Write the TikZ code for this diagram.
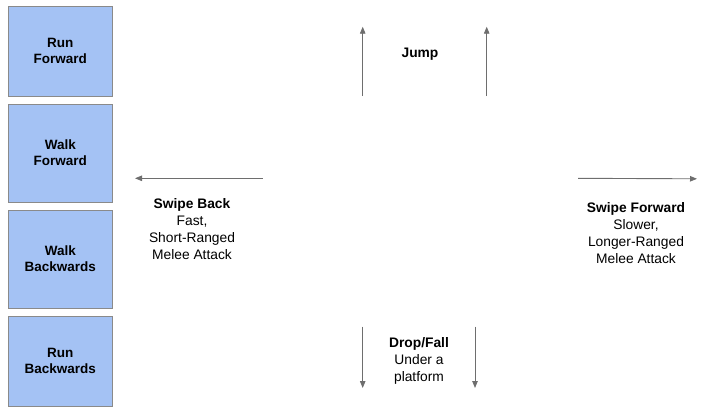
\documentclass[tikz,border=0pt]{standalone}
\usepackage{fontspec}
\setmainfont{Liberation Sans}
\usetikzlibrary{arrows.meta}
\definecolor{boxfill}{HTML}{A4C2F4}
\definecolor{boxline}{HTML}{8A8A8A}
\definecolor{arr}{HTML}{6E6E6E}
\begin{document}
\begin{tikzpicture}[x=1pt,y=-1pt,
  movebox/.style={draw=boxline,fill=boxfill,line width=1pt,minimum width=104pt,minimum height=90pt,inner sep=0pt,align=center,font=\fontsize{13.5}{16}\selectfont\bfseries},
  lbl/.style={align=center,font=\fontsize{13.8}{17}\selectfont,inner sep=0pt},
  conn/.style={draw=arr,line width=0.9pt,-{Triangle[length=7pt,width=5.5pt]}}]
\useasboundingbox (0,0) rectangle (723,413);
\node[movebox,minimum height=90.5pt] (rf) at (60.3,51.3) {Run\\Forward};
\node[movebox,minimum height=98pt] (wf) at (60.3,153) {Walk\\Forward};
\node[movebox,minimum height=98pt] (wb) at (60.3,259) {Walk\\Backwards};
\node[movebox,minimum height=90.5pt] (rb) at (60.3,361.3) {Run\\Backwards};

\coordinate (j1s) at (362.7,96); \coordinate (j1e) at (362.7,26.7);
\coordinate (j2s) at (486.7,96); \coordinate (j2e) at (486.7,26.7);
\draw[conn] (j1s) -- (j1e);
\draw[conn] (j2s) -- (j2e);
\node[lbl,font=\fontsize{13.8}{17}\selectfont\bfseries] (jump) at (420,54) {Jump};

\coordinate (d1s) at (362.7,326.7); \coordinate (d1e) at (362.7,388);
\coordinate (d2s) at (475,326.7); \coordinate (d2e) at (475,388);
\draw[conn] (d1s) -- (d1e);
\draw[conn] (d2s) -- (d2e);
\node[lbl] (drop) at (419,361) {\textbf{Drop/Fall}\\Under a\\platform};

\coordinate (bs) at (262.7,178.3); \coordinate (be) at (135,178.3);
\draw[conn] (bs) -- (be);
\node[lbl] (back) at (192,229.5) {\textbf{Swipe Back}\\Fast,\\Short-Ranged\\Melee Attack};

\coordinate (fs) at (578,178.3); \coordinate (fe) at (697,178.8);
\draw[conn] (fs) -- (fe);
\node[lbl] (fwd) at (636,233.5) {\textbf{Swipe Forward}\\Slower,\\Longer-Ranged\\Melee Attack};
\end{tikzpicture}
\end{document}
